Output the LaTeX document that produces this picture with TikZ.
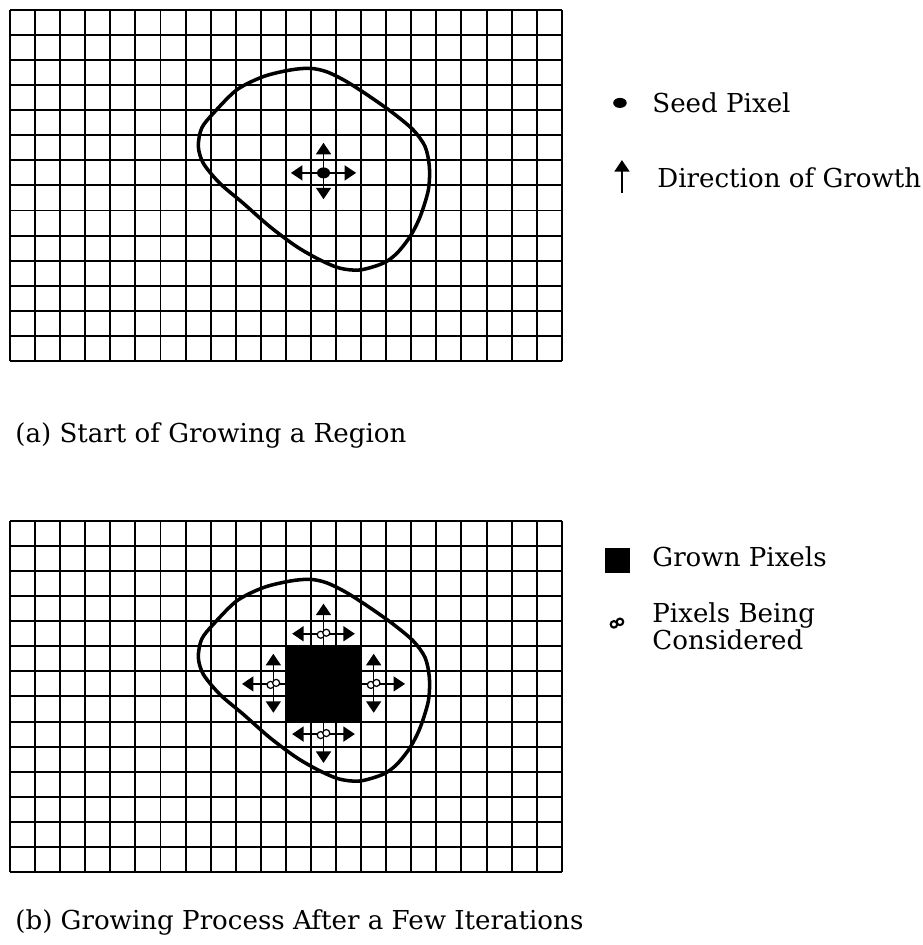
\documentclass[tikz,border=0pt]{standalone}
\usepackage{fontspec}
\setmainfont{DejaVu Serif}
\usetikzlibrary{arrows.meta}

\tikzset{
    gridline/.style={line width=1.1pt},
    blobline/.style={line width=2pt, line join=round},
    growarrow/.style={line width=0.9pt, -{Triangle[width=8.5pt,length=6.5pt]}},
    legendtext/.style={font=\fontsize{14.8}{15.3}\selectfont, anchor=base west, inner sep=0pt},
    considerloop/.style={line width=0.7pt, fill=white},
}

\begin{document}
\begin{tikzpicture}[x=0.5cm,y=0.5cm]
    \useasboundingbox (-0.399,-23.285) rectangle (36.364,14.394);
    \foreach \dy in {0,-20.375} {
      \begin{scope}[shift={(0,\dy)}]
        \draw[gridline,step=1] (0,0) grid (22,14);
        \draw[blobline] plot[smooth cycle] coordinates {
          (7.51,8.55) (7.64,9.28) (8.11,9.88) (9.04,10.81) (10.10,11.34) (11.16,11.60)
          (11.96,11.67) (12.63,11.53) (13.42,11.14) (14.35,10.54) (15.28,9.88) (16.08,9.21)
          (16.55,8.55) (16.72,7.75) (16.68,6.82) (16.35,5.75) (15.95,4.96) (15.42,4.29)
          (14.88,3.90) (13.96,3.63) (13.16,3.70) (12.36,4.03) (11.43,4.56) (10.37,5.35)
          (9.30,6.29) (8.37,7.08) (7.71,7.88)};
      \end{scope}
    }
    % (a) seed pixel
    \coordinate (seed) at (12.5,7.5);
    \foreach \dx/\dy in {0/1.2, 0/-1.05, -1.3/0, 1.3/0} {
      \draw[growarrow] (seed) -- ++(\dx,\dy);
    }
    \fill (seed) ellipse [x radius=0.26, y radius=0.22];
    \fill (24.32,10.29) ellipse [x radius=0.27, y radius=0.2];
    \node[legendtext] (seedlabel) at (25.6,9.89) {Seed Pixel};
    \draw[growarrow] (24.40,6.70) -- (24.40,8.01);
    \node[legendtext] (growlabel) at (25.8,6.90) {Direction of Growth};
    \node[legendtext] (capa) at (0.2,-3.23) {(a) Start of Growing a Region};
    % (b) after a few iterations
    \begin{scope}[shift={(0,-20.375)}]
      \foreach \name/\x/\y in {up/12.5/9.5, left/10.5/7.5, right/14.5/7.5, down/12.5/5.5} {
        \coordinate (\name) at (\x,\y);
        \foreach \dx/\dy in {0/1.2, 0/-1.15, -1.25/0, 1.25/0} {
          \draw[growarrow] (\name) -- ++(\dx,\dy);
        }
        \draw[considerloop] (\name) ++(-0.11,-0.04) circle (0.14);
        \draw[considerloop] (\name) ++(0.11,0.04) circle (0.14);
      }
      \fill (11,6) rectangle (14,9);
    \end{scope}
    \fill (23.72,-8.45) rectangle (24.72,-7.46);
    \node[legendtext] (grownlabel) at (25.6,-8.21) {Grown Pixels};
    \draw[considerloop, line width=1.2pt] (24.08,-10.5) circle (0.13);
    \draw[considerloop, line width=1.2pt] (24.32,-10.4) circle (0.13);
    \node[legendtext, align=left] (conslabel) at (25.6,-11.52) {Pixels Being\\Considered};
    \node[legendtext] (capb) at (0.2,-22.65) {(b) Growing Process After a Few Iterations};
\end{tikzpicture}
\end{document}
